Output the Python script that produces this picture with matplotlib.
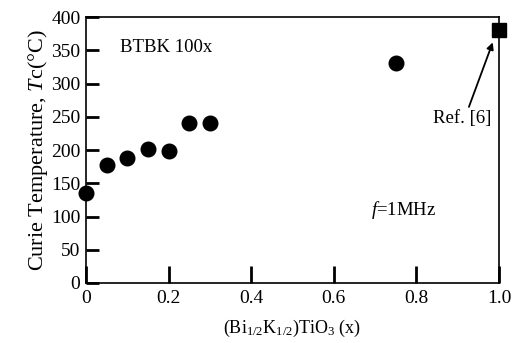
import matplotlib
matplotlib.use("Agg")
import matplotlib.pyplot as plt

plt.rcParams['font.family'] = ['Liberation Serif', 'DejaVu Serif']
plt.rcParams['mathtext.fontset'] = 'custom'
plt.rcParams['mathtext.rm'] = 'Liberation Serif'
plt.rcParams['mathtext.it'] = 'Liberation Serif:italic'

x_vals = [0.0, 0.05, 0.1, 0.15, 0.2, 0.25, 0.3, 0.75]
tc_vals = [135, 178, 188, 202, 199, 241, 241, 331]
ref_x = [1.0]
ref_tc = [380]
xticks = [0, 0.2, 0.4, 0.6, 0.8, 1.0]
xtick_labels = ['0', '0.2', '0.4', '0.6', '0.8', '1.0']
yticks = [0, 50, 100, 150, 200, 250, 300, 350, 400]

fig = plt.figure(figsize=(5.13, 3.43), dpi=100)
ax = fig.add_axes([0.1676, 0.175, 0.805, 0.775])

ax.plot(x_vals, tc_vals, 'o', color='black', markersize=10.5, clip_on=False, zorder=3)
ax.plot(ref_x, ref_tc, 's', color='black', markersize=10, clip_on=False, zorder=3)

ax.set_xlim(0, 1.0)
ax.set_ylim(0, 400)
ax.set_xticks(xticks)
ax.set_xticklabels(xtick_labels)
ax.set_yticks(yticks)
ax.tick_params(axis='both', direction='in', labelsize=14, width=2, color='black')
ax.tick_params(axis='x', length=12, pad=5)
ax.tick_params(axis='y', length=9, pad=4)
for s in ax.spines.values():
    s.set_linewidth(1.2)

ax.set_ylabel(r'Curie Temperature, $T$c(°C)', fontsize=16, labelpad=1)
ax.set_xlabel(r'(Bi$_{1/2}$K$_{1/2}$)TiO$_3$ (x)', fontsize=13, labelpad=8)

ax.text(0.082, 355, 'BTBK 100x', fontsize=13.5, va='center', ha='left')
ax.text(0.69, 110, r'$f$=1MHz', fontsize=13.5, va='center', ha='left')
ax.annotate('Ref. [6]', xy=(0.985, 362), xytext=(0.84, 248), fontsize=13.5,
            va='center', ha='left',
            arrowprops=dict(arrowstyle='-|>', color='black', lw=1.3,
                            shrinkA=0, shrinkB=0, mutation_scale=10,
                            relpos=(0.6, 1.0)))

fig.savefig('out.png', dpi=100)
